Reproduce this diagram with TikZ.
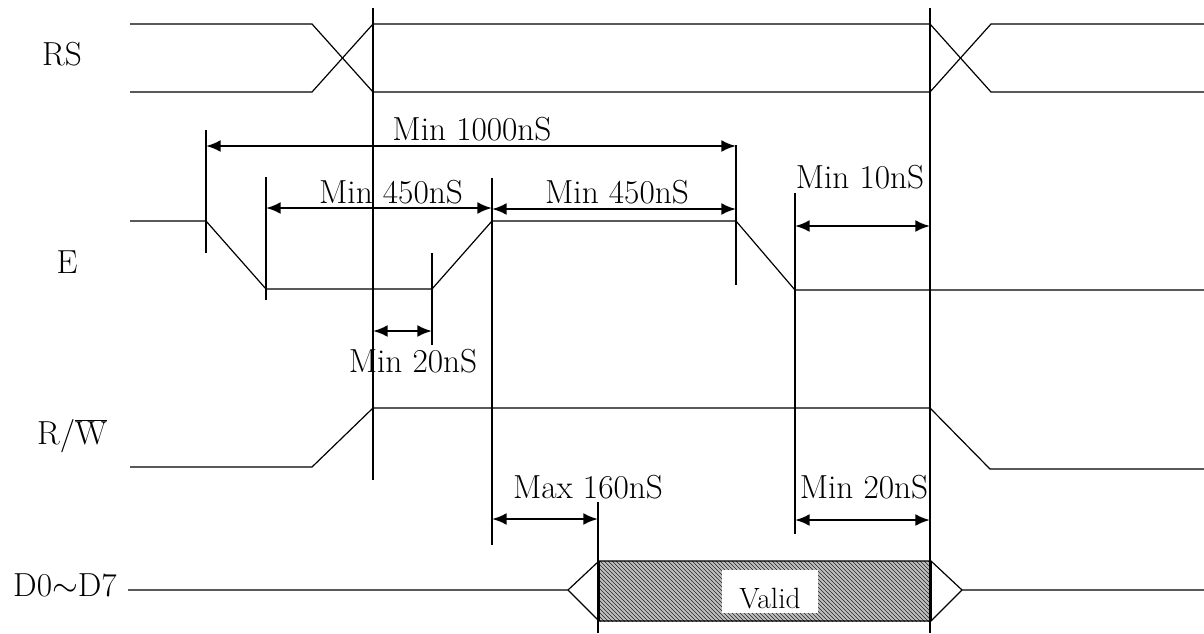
\documentclass[tikz,border=0pt]{standalone}
\usetikzlibrary{arrows.meta,patterns}
\begin{document}
\begin{tikzpicture}[x=0.75pt,y=-0.75pt,
  sig/.style={line width=0.9pt,line join=miter},
  refline/.style={line width=1pt},
  dim/.style={{Latex[length=11pt,width=9pt]}-{Latex[length=11pt,width=9pt]},line width=1.8pt},
  lbl/.style={font=\fontsize{25}{29}\selectfont,inner sep=0pt},
  tlbl/.style={font=\fontsize{25}{29}\selectfont,inner sep=0pt,anchor=base}]
\useasboundingbox (0,0) rectangle (1204,633);

% signal names
\node[lbl] (nRS) at (62,54) {RS};
\node[lbl] (nE) at (67,262) {E};
\node[lbl] (nRW) at (72,436) {R/$\overline{\hbox{W}}$};
\node[lbl] (nD) at (65,585) {D0$\sim$D7};

% RS
\draw[sig] (130,24) -- (312,24) -- (373,92) -- (930,92) -- (991,24) -- (1204,24);
\draw[sig] (130,92) -- (312,92) -- (373,24) -- (930,24) -- (991,92) -- (1204,92);

% E
\draw[sig] (130,221) -- (206,221) -- (266,289) -- (432,289) -- (492,221) -- (736,221) -- (795,290) -- (1204,290);

% R/W
\draw[sig] (130,467) -- (312,467) -- (373,408) -- (930,408) -- (990,469) -- (1204,469);

% D0-D7
\fill[gray!50] (599,561) rectangle (931,621);
\fill[pattern=north west lines,pattern color=black!85] (599,561) rectangle (931,621);
\draw[sig] (128,590) -- (568,590) -- (599,561) -- (931,561) -- (962,590) -- (1204,590);
\draw[sig] (568,590) -- (599,621) -- (931,621) -- (962,590);
\draw[sig] (599,561) -- (599,621);
\draw[sig] (931,561) -- (931,621);
\fill[white] (722,570) rectangle (818,613);
\node[font=\fontsize{22}{26}\selectfont,inner sep=0pt] (nValid) at (770,599) {Valid};

% reference lines
\draw[refline] (373,8) -- (373,480);
\draw[refline] (930,8) -- (930,633);
\draw[refline] (206,130) -- (206,253);
\draw[refline] (266,177) -- (266,300);
\draw[refline] (432,253) -- (432,345);
\draw[refline] (492,178) -- (492,545);
\draw[refline] (736,145) -- (736,285);
\draw[refline] (795,193) -- (795,534);
\draw[refline] (598,502) -- (598,633);

% dimension points
\coordinate (a1) at (206,146); \coordinate (a2) at (736,146);
\coordinate (b1) at (266,208); \coordinate (b2) at (492,208);
\coordinate (c1) at (492,209); \coordinate (c2) at (736,209);
\coordinate (d1) at (795,226); \coordinate (d2) at (930,226);
\coordinate (e1) at (373,331); \coordinate (e2) at (432,331);
\coordinate (f1) at (492,519); \coordinate (f2) at (598,519);
\coordinate (g1) at (795,520); \coordinate (g2) at (930,520);

\draw[dim] (a1) -- (a2);
\draw[dim] (b1) -- (b2);
\draw[dim] (c1) -- (c2);
\draw[dim] (d1) -- (d2);
\draw[dim] (e1) -- (e2);
\draw[dim] (f1) -- (f2);
\draw[dim] (g1) -- (g2);

% labels
\node[tlbl] (t1) at (472,140) {Min 1000nS};
\node[tlbl] (t2) at (391,203) {Min 450nS};
\node[tlbl] (t3) at (617,203) {Min 450nS};
\node[tlbl] (t4) at (860,188) {Min 10nS};
\node[tlbl] (t5) at (413,372) {Min 20nS};
\node[tlbl] (t6) at (588,498) {Max 160nS};
\node[tlbl] (t7) at (864,498) {Min 20nS};
\end{tikzpicture}
\end{document}
